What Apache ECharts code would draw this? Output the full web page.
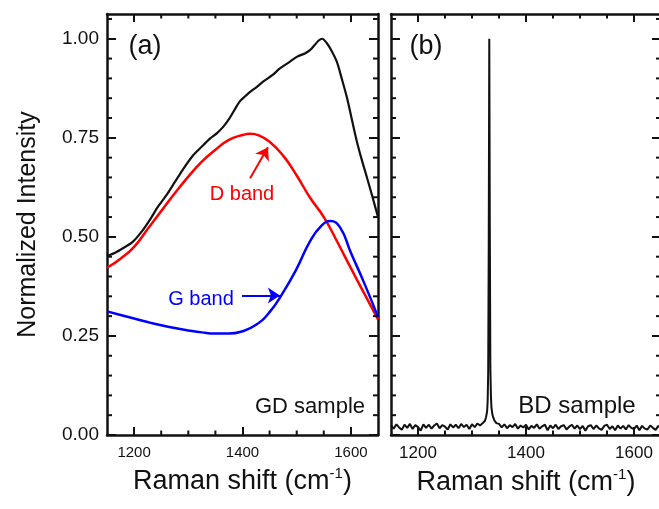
<!DOCTYPE html>
<html>
<head>
<meta charset="utf-8">
<script src="https://cdn.jsdelivr.net/npm/echarts@6/dist/echarts.min.js"></script>
<style>
  html, body { margin: 0; padding: 0; background: #fff; }
  #chart { width: 659px; height: 509px; }
</style>
</head>
<body>
<div id="chart"></div>
<script>
// axis ranges and ticks
const xMin = 1150, xMax = 1650;
const yMin = 0, yMax = 1.0625;
const xMajor = [1200, 1400, 1600];
const xMinor = [1250, 1300, 1350, 1450, 1500, 1550];
const yMajor = [0, 0.25, 0.5, 0.75, 1.0];
const yMinor = [0.05, 0.1, 0.15, 0.2, 0.3, 0.35, 0.4, 0.45, 0.55, 0.6, 0.65, 0.7, 0.8, 0.85, 0.9, 0.95, 1.05];

// (a) GD sample: measured spectrum
const totalShift = [1150, 1165, 1180, 1198, 1215, 1230, 1245, 1261, 1275, 1290, 1309, 1325, 1340, 1353, 1364,
  1375, 1385, 1395, 1405, 1414, 1426, 1438, 1455, 1469, 1485, 1501, 1515, 1525, 1533, 1540, 1547, 1556, 1565,
  1574, 1583, 1593, 1602, 1611, 1620, 1630, 1640, 1650];
const totalIntensity = [0.452, 0.46, 0.472, 0.488, 0.515, 0.545, 0.578, 0.608, 0.638, 0.67, 0.706, 0.728, 0.748, 0.762, 0.777,
  0.797, 0.82, 0.842, 0.855, 0.866, 0.878, 0.892, 0.908, 0.925, 0.94, 0.955, 0.963, 0.972, 0.984, 0.995, 1.0, 0.988, 0.968,
  0.942, 0.9, 0.85, 0.795, 0.741, 0.695, 0.648, 0.6, 0.55];

// (a) fitted D band
const dShift = [1150, 1175, 1200, 1225, 1250, 1275, 1300, 1325, 1350, 1375, 1400, 1415, 1430, 1450, 1475, 1500,
  1525, 1550, 1575, 1600, 1625, 1650];
const dBand = [0.422, 0.445, 0.475, 0.52, 0.565, 0.61, 0.652, 0.69, 0.72, 0.745, 0.757, 0.76, 0.756, 0.74, 0.705, 0.655,
  0.598, 0.55, 0.487, 0.421, 0.356, 0.292];

// (a) fitted G band
const gShift = [1150, 1175, 1200, 1225, 1250, 1275, 1300, 1325, 1350, 1375, 1400, 1425, 1450, 1475, 1500, 1525,
  1545, 1562, 1580, 1600, 1625, 1650];
const gBand = [0.312, 0.303, 0.294, 0.285, 0.277, 0.27, 0.264, 0.259, 0.256, 0.256, 0.262, 0.278, 0.31, 0.36, 0.42, 0.49,
  0.527, 0.54, 0.524, 0.46, 0.382, 0.298];

// (b) BD sample spectrum
const bdShift = [
  1150, 1155, 1160, 1165, 1170, 1175, 1180, 1185, 1190, 1195, 1200, 1205, 1210, 1215, 1220, 1225, 1230,
  1235, 1240, 1245, 1250, 1255, 1260, 1265, 1270, 1275, 1280, 1285, 1290, 1295, 1300, 1305, 1310, 1315,
  1320, 1324, 1326, 1328, 1329, 1330, 1331, 1332, 1333, 1334, 1335, 1336, 1338, 1341, 1345,
  1350, 1355, 1360, 1365, 1370, 1375, 1380, 1385, 1390, 1395, 1400, 1405, 1410, 1415, 1420, 1425, 1430,
  1435, 1440, 1445, 1450, 1455, 1460, 1465, 1470, 1475, 1480, 1485, 1490, 1495, 1500, 1505, 1510, 1515,
  1520, 1525, 1530, 1535, 1540, 1545, 1550, 1555, 1560, 1565, 1570, 1575, 1580, 1585, 1590, 1595, 1600,
  1605, 1610, 1615, 1620, 1625, 1630, 1635, 1640, 1645, 1650];
const bdIntensity = [
  0.024, 0.016, 0.027, 0.019, 0.013, 0.026, 0.018, 0.028, 0.015, 0.025, 0.02, 0.011, 0.027, 0.018, 0.026, 0.016, 0.024,
  0.029, 0.017, 0.025, 0.021, 0.014, 0.027, 0.019, 0.026, 0.017, 0.028, 0.02, 0.026, 0.015, 0.027, 0.02, 0.029, 0.024,
  0.03, 0.036, 0.045, 0.06, 0.085, 0.16, 0.48, 1.0, 0.52, 0.17, 0.1, 0.07, 0.05, 0.038, 0.03,
  0.028, 0.019, 0.027, 0.017, 0.025, 0.02, 0.028, 0.016, 0.024, 0.019, 0.026, 0.014, 0.023, 0.018, 0.027, 0.016, 0.022,
  0.026, 0.012, 0.024, 0.017, 0.026, 0.015, 0.022, 0.025, 0.014, 0.021, 0.026, 0.016, 0.024, 0.015, 0.023, 0.011, 0.022,
  0.025, 0.015, 0.024, 0.017, 0.013, 0.023, 0.026, 0.015, 0.022, 0.012, 0.024, 0.016, 0.023, 0.014, 0.025, 0.018, 0.015,
  0.024, 0.012, 0.023, 0.016, 0.014, 0.024, 0.018, 0.013, 0.023, 0.017];

const font = 'Liberation Sans, Arial, sans-serif';
const ink = '#111';
const red = '#ff0000';
const blue = '#0000ff';

const zip = (xs, ys) => xs.map((x, i) => [x, ys[i]]);

const xTitle = {
  name: '{t|Raman shift (cm}{s|-1}{t|)}',
  nameLocation: 'middle',
  nameGap: 31,
  nameTextStyle: {
    rich: {
      t: { fontSize: 27, fontFamily: font, color: ink, lineHeight: 32 },
      s: { fontSize: 15, fontFamily: font, color: ink, lineHeight: 15, verticalAlign: 'top' }
    }
  }
};

const tick = (values, length) => ({
  show: true, inside: true, length, customValues: values, lineStyle: { color: ink, width: 2 }
});
const frameLine = { show: true, onZero: false, lineStyle: { color: ink, width: 2.5 } };
const noLabel = { show: false };

const xAxesFor = (grid, labelSize) => {
  const base = {
    type: 'value', gridIndex: grid, min: xMin, max: xMax,
    splitLine: { show: false }, axisLine: frameLine, axisTick: tick(xMajor, 8)
  };
  return [
    {
      ...base, ...xTitle, position: 'bottom',
      axisLabel: { customValues: xMajor, fontSize: labelSize, fontFamily: font, color: ink, margin: 10, formatter: v => String(v) }
    },
    { ...base, position: 'top', axisLabel: noLabel }
  ];
};

const yAxesFor = (grid, showLabels) => {
  const base = {
    type: 'value', gridIndex: grid, min: yMin, max: yMax,
    splitLine: { show: false }, axisLine: frameLine, axisTick: tick(yMajor, 9)
  };
  const left = {
    ...base, position: 'left',
    axisLabel: showLabels
      ? { customValues: yMajor, fontSize: 19, fontFamily: font, color: ink, margin: 8, formatter: v => v.toFixed(2) }
      : noLabel
  };
  if (showLabels) {
    Object.assign(left, {
      name: 'Normalized Intensity',
      nameLocation: 'middle',
      nameGap: 66,
      nameTextStyle: { fontSize: 25, fontFamily: font, color: ink }
    });
  }
  return [left, { ...base, position: 'right', axisLabel: noLabel }];
};

// short minor ticks on all four frame sides, placed through the axis scales
const tickStyle = { stroke: ink, lineWidth: 2 };
const minorTicks = (axisIndex, values, vertical) => ({
  type: 'custom',
  xAxisIndex: axisIndex,
  yAxisIndex: axisIndex,
  silent: true,
  clip: false,
  z: 5,
  data: values.map(v => [v]),
  renderItem: (params, api) => {
    const v = api.value(0);
    let a, b, d;
    if (vertical) {
      a = api.coord([xMin, v]);
      b = api.coord([xMax, v]);
      d = [5, 0];
    } else {
      a = api.coord([v, yMin]);
      b = api.coord([v, yMax]);
      d = [0, -4.5];
    }
    return {
      type: 'group',
      children: [
        { type: 'line', shape: { x1: a[0], y1: a[1], x2: a[0] + d[0], y2: a[1] + d[1] }, style: tickStyle },
        { type: 'line', shape: { x1: b[0], y1: b[1], x2: b[0] - d[0], y2: b[1] - d[1] }, style: tickStyle }
      ]
    };
  }
});

const arrow = (color, from, to) => ({
  silent: true,
  symbol: ['none', 'arrow'],
  symbolSize: 12,
  label: { show: false },
  lineStyle: { color, width: 2, type: 'solid' },
  emphasis: { disabled: true },
  data: [[{ coord: from }, { coord: to }]]
});

const text = (t, x, y, size, color) => ({
  type: 'text',
  x, y,
  style: { text: t, fontSize: size, fontFamily: font, fill: color || ink, align: 'center', verticalAlign: 'middle' }
});

const chart = echarts.init(document.getElementById('chart'), null, { renderer: 'canvas' });

chart.setOption({
  animation: false,
  backgroundColor: '#fff',
  grid: [
    { left: 107, top: 14, width: 271, height: 421, outerBoundsMode: 'none' },
    { left: 391, top: 14, width: 270, height: 421, outerBoundsMode: 'none' }
  ],
  xAxis: [...xAxesFor(0, 15), ...xAxesFor(1, 17)],
  yAxis: [...yAxesFor(0, true), ...yAxesFor(1, false)],
  graphic: [
    text('(a)', 145, 47, 27),
    text('(b)', 426, 47, 27),
    text('GD sample', 310, 407, 22),
    text('BD sample', 577, 406, 24),
    text('D band', 242, 194, 20, red),
    text('G band', 201, 299, 20, blue)
  ],
  series: [
    {
      name: 'GD sample', type: 'line', xAxisIndex: 0, yAxisIndex: 0,
      data: zip(totalShift, totalIntensity), showSymbol: false, smooth: 0.3,
      lineStyle: { color: ink, width: 2.2 }
    },
    {
      name: 'D band', type: 'line', xAxisIndex: 0, yAxisIndex: 0,
      data: zip(dShift, dBand), showSymbol: false, smooth: true,
      lineStyle: { color: red, width: 2.5 },
      markLine: arrow(red, [1414, 0.648], [1447, 0.726])
    },
    {
      name: 'G band', type: 'line', xAxisIndex: 0, yAxisIndex: 0,
      data: zip(gShift, gBand), showSymbol: false, smooth: true,
      lineStyle: { color: blue, width: 2.5 },
      markLine: arrow(blue, [1399, 0.352], [1469, 0.352])
    },
    {
      name: 'BD sample', type: 'line', xAxisIndex: 2, yAxisIndex: 2,
      data: zip(bdShift, bdIntensity), showSymbol: false, smooth: false,
      lineStyle: { color: ink, width: 2 }
    },
    minorTicks(0, xMinor, false),
    minorTicks(0, yMinor, true),
    minorTicks(2, xMinor, false),
    minorTicks(2, yMinor, true)
  ]
});
</script>
</body>
</html>
